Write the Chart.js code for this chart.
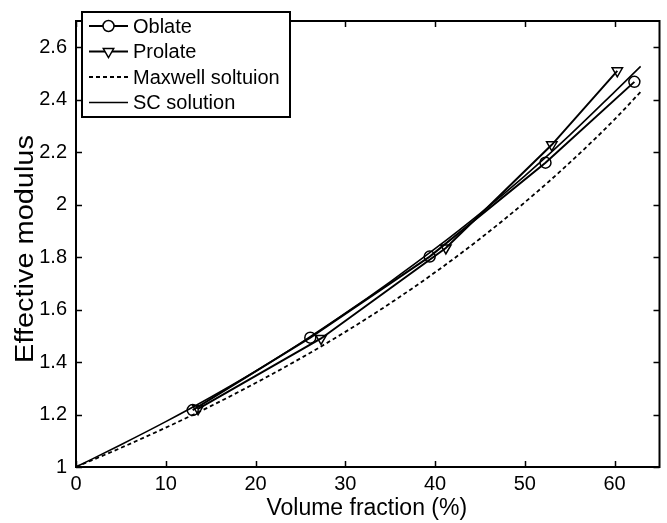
<!DOCTYPE html>
<html>
<head>
<meta charset="utf-8">
<script src="https://cdn.jsdelivr.net/npm/chart.js@4.4.0/dist/chart.umd.min.js"></script>
<style>
  html, body { margin: 0; padding: 0; background: #fff; }
  #wrap { width: 667px; height: 523px; }
</style>
</head>
<body>
<div id="wrap"><canvas id="grafica" width="667" height="523"></canvas></div>
<script>
//--------------------- Datos -------------------------------------------
const oblateX  = [13.0, 26.1, 39.4, 52.3, 62.2];
const oblateY  = [1.217, 1.493, 1.802, 2.160, 2.468];
const prolateX = [13.6, 27.3, 41.2, 53.0, 60.3];
const prolateY = [1.222, 1.490, 1.835, 2.228, 2.510];

const curveX    = [0, 5, 10, 15, 20, 25, 30, 35, 40, 45, 50, 55, 60, 62.9];
const maxwellY  = [1, 1.073, 1.150, 1.232, 1.320, 1.414, 1.515, 1.624, 1.742, 1.870, 2.009, 2.160, 2.325, 2.43];
const scY       = [1, 1.085, 1.173, 1.266, 1.365, 1.472, 1.586, 1.706, 1.832, 1.966, 2.110, 2.265, 2.430, 2.527];

const xTicks = [0, 10, 20, 30, 40, 50, 60];
const yTicks = [1, 1.2, 1.4, 1.6, 1.8, 2, 2.2, 2.4, 2.6];

const legendLabels = ['Oblate', 'Prolate', 'Maxwell soltuion', 'SC solution'];
const xTitle = 'Volume fraction (%)';
const yTitle = 'Effective modulus';

const pares = (xs, ys) => xs.map((x, i) => ({ x: x, y: ys[i] }));

const FUENTE = "'Liberation Sans', Arial, sans-serif";
Chart.defaults.font.family = FUENTE;
Chart.defaults.color = '#000';

//--------------------- Marco con marcas hacia dentro -----------------------
const marcoPlugin = {
  id: 'marco',
  afterDatasetsDraw(chart) {
    const ctx = chart.ctx;
    const a = chart.chartArea;
    const sx = chart.scales.x, sy = chart.scales.y;
    const largo = 6;
    ctx.save();
    ctx.strokeStyle = '#000';
    ctx.lineWidth = 1.5;
    ctx.beginPath();
    xTicks.forEach(v => {
      const px = Math.round(sx.getPixelForValue(v)) + 0.5;
      ctx.moveTo(px, a.bottom); ctx.lineTo(px, a.bottom - largo);
      ctx.moveTo(px, a.top); ctx.lineTo(px, a.top + largo);
    });
    yTicks.forEach(v => {
      const py = Math.round(sy.getPixelForValue(v)) + 0.5;
      ctx.moveTo(a.left, py); ctx.lineTo(a.left + largo, py);
      ctx.moveTo(a.right, py); ctx.lineTo(a.right - largo, py);
    });
    ctx.stroke();
    ctx.lineWidth = 2;
    ctx.strokeRect(a.left, a.top, a.right - a.left, a.bottom - a.top);

    // títulos de los ejes
    ctx.fillStyle = '#000';
    ctx.font = '23px ' + FUENTE;
    ctx.textAlign = 'center';
    ctx.textBaseline = 'alphabetic';
    ctx.fillText(xTitle, (a.left + a.right) / 2 - 1, 515);

    ctx.font = '25px ' + FUENTE;
    ctx.save();
    ctx.translate(33, 249);
    ctx.rotate(-Math.PI / 2);
    ctx.scale(1.157, 1);
    ctx.fillText(yTitle, 0, 0);
    ctx.restore();
    ctx.restore();
  }
};

//--------------------- Leyenda estilo MATLAB -----------------------
const leyendaPlugin = {
  id: 'leyenda',
  afterDraw(chart) {
    const ctx = chart.ctx;
    const caja = { x: 82, y: 12, w: 208, h: 105 };
    ctx.save();
    ctx.fillStyle = '#fff';
    ctx.fillRect(caja.x, caja.y, caja.w, caja.h);
    ctx.strokeStyle = '#000';
    ctx.lineWidth = 2;
    ctx.strokeRect(caja.x, caja.y, caja.w, caja.h);
    ctx.textBaseline = 'middle';
    ctx.font = '20px ' + FUENTE;
    legendLabels.forEach((txt, i) => {
      const ds = chart.data.datasets[i];
      const y = 26 + i * 25.5;
      ctx.lineWidth = ds.borderWidth;
      ctx.setLineDash(ds.borderDash || []);
      ctx.beginPath();
      ctx.moveTo(89, y); ctx.lineTo(128, y);
      ctx.stroke();
      ctx.setLineDash([]);
      if (ds.pointRadius > 0) {
        ctx.lineWidth = 1.5;
        ctx.fillStyle = '#fff';
        Chart.helpers.drawPoint(ctx, {
          pointStyle: ds.pointStyle, rotation: ds.pointRotation || 0,
          radius: ds.pointRadius, borderWidth: 1.5
        }, 108.5, y);
      }
      ctx.fillStyle = '#000';
      ctx.fillText(txt, 133, y + 1);
    });
    ctx.restore();
  }
};

const ctxGraf = document.getElementById('grafica').getContext('2d');
const grafica = new Chart(ctxGraf, {
  type: 'scatter',
  data: {
    datasets: [{
      label: 'Oblate',
      data: pares(oblateX, oblateY),
      showLine: true,
      borderColor: '#000',
      backgroundColor: 'rgba(0,0,0,0)',
      borderWidth: 2,
      pointStyle: 'circle',
      pointRadius: 5.5,
      pointBorderWidth: 1.5,
      pointBorderColor: '#000',
      pointBackgroundColor: 'rgba(0,0,0,0)'
    }, {
      label: 'Prolate',
      data: pares(prolateX, prolateY),
      showLine: true,
      borderColor: '#000',
      backgroundColor: 'rgba(0,0,0,0)',
      borderWidth: 2,
      pointStyle: 'triangle',
      pointRotation: 180,
      pointRadius: 6,
      pointBorderWidth: 1.5,
      pointBorderColor: '#000',
      pointBackgroundColor: 'rgba(0,0,0,0)'
    }, {
      label: 'Maxwell soltuion',
      data: pares(curveX, maxwellY),
      showLine: true,
      borderColor: '#000',
      borderWidth: 1.8,
      borderDash: [4, 3],
      pointRadius: 0,
      cubicInterpolationMode: 'monotone'
    }, {
      label: 'SC solution',
      data: pares(curveX, scY),
      showLine: true,
      borderColor: '#000',
      borderWidth: 1.6,
      pointRadius: 0,
      cubicInterpolationMode: 'monotone'
    }]
  },
  options: {
    responsive: false,
    animation: false,
    events: [],
    layout: { padding: { top: 5, right: 6, left: 0, bottom: 0 } },
    plugins: { legend: { display: false }, tooltip: { enabled: false } },
    scales: {
      x: {
        type: 'linear', min: 0, max: 65,
        grid: { display: false, drawTicks: false }, border: { display: false },
        afterBuildTicks: s => { s.ticks = xTicks.map(v => ({ value: v })); },
        afterFit: s => { s.height = 56; },
        ticks: { font: { size: 20 }, padding: 5, maxRotation: 0 },
        title: { display: false }
      },
      y: {
        type: 'linear', min: 1, max: 2.7,
        grid: { display: false, drawTicks: false }, border: { display: false },
        afterBuildTicks: s => { s.ticks = yTicks.map(v => ({ value: v })); },
        afterFit: s => { s.width = 76; },
        ticks: {
          font: { size: 20 }, padding: 9,
          callback: v => String(Math.round(v * 10) / 10)
        },
        title: { display: false }
      }
    }
  },
  plugins: [marcoPlugin, leyendaPlugin]
});
</script>
</body>
</html>
